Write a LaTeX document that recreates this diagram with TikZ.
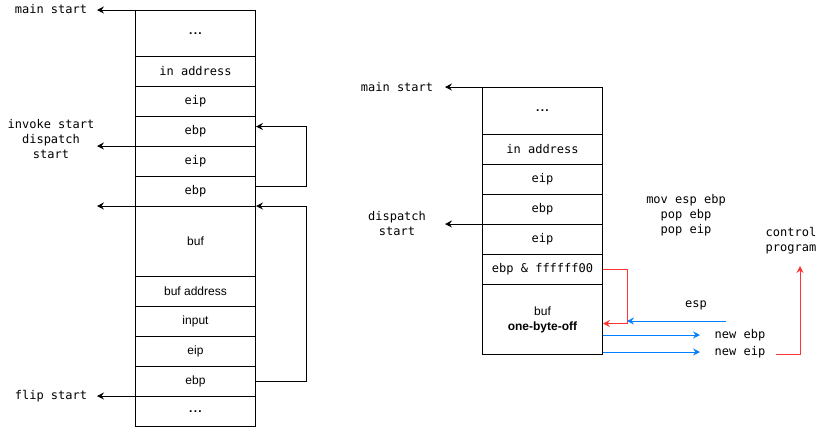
\documentclass[tikz,border=0pt]{standalone}
\usepackage{fontspec}
\newfontfamily\monof{DejaVu Sans Mono}
\newfontfamily\sansf{Liberation Sans}
\usetikzlibrary{arrows.meta}
\definecolor{myred}{RGB}{255,51,51}
\definecolor{myblue}{RGB}{0,127,255}
\newcommand{\mydots}{\textbf{.\kern1.3bp.\kern1.3bp.}}
\tikzset{
  cell/.style={draw=black, line width=1bp, minimum width=120bp, inner sep=0pt, anchor=north west,
    font=\monof\fontsize{12bp}{15bp}\selectfont, align=center},
  scell/.style={cell, font=\sansf\fontsize{12bp}{15bp}\selectfont},
  lbl/.style={inner sep=0pt, font=\monof\fontsize{12bp}{15bp}\selectfont, align=center},
  arr/.style={line width=1bp, -{Stealth[length=7bp,width=7bp,inset=2.5bp]}},
  redarr/.style={arr, draw=myred},
  bluearr/.style={arr, draw=myblue},
}
\begin{document}
\begin{tikzpicture}[x=1bp,y=-1bp]
\useasboundingbox (0,0) rectangle (826,428);
% left stack
\node[scell, minimum height=46bp] (l0) at (135,10) {\mydots};
\node[cell, minimum height=30bp] (l1) at (135,56) {in address};
\node[cell, minimum height=30bp] (l2) at (135,86) {eip};
\node[cell, minimum height=30bp] (l3) at (135,116) {ebp};
\node[cell, minimum height=30bp] (l4) at (135,146) {eip};
\node[cell, minimum height=30bp] (l5) at (135,176) {ebp};
\node[scell, minimum height=70bp] (l6) at (135,206) {buf};
\node[scell, minimum height=30bp] (l7) at (135,276) {buf address};
\node[scell, minimum height=30bp] (l8) at (135,306) {input};
\node[scell, minimum height=30bp] (l9) at (135,336) {eip};
\node[scell, minimum height=30bp] (l10) at (135,366) {ebp};
\node[scell, minimum height=30bp] (l11) at (135,396) {\mydots};
% left labels
\node[lbl] (lmain) at (51,9) {main start};
\coordinate (tmain) at (97,10);
\node[lbl] (linvoke) at (51,139) {invoke start\\dispatch\\start};
\coordinate (tinvoke) at (97,146);
\coordinate (tbuf) at (97,206);
\node[lbl] (lflip) at (51,396) {flip start};
\coordinate (tflip) at (97,396);
\draw[arr] (l0.north west) -- (tmain);
\draw[arr] (l4.north west) -- (tinvoke);
\draw[arr] (l6.north west) -- (tbuf);
\draw[arr] (l11.north west) -- (tflip);
% left loops
\draw[arr] ([yshift=5bp]l5.east) -- ++(50,0) |- ([yshift=5bp]l3.east);
\draw[arr] (l10.east) -- ++(50,0) |- (l6.north east);
% right stack
\node[scell, minimum height=47bp] (r0) at (482,87) {\mydots};
\node[cell, minimum height=30bp] (r1) at (482,134) {in address};
\node[cell, minimum height=30bp] (r2) at (482,164) {eip};
\node[cell, minimum height=30bp] (r3) at (482,194) {ebp};
\node[cell, minimum height=30bp] (r4) at (482,224) {eip};
\node[cell, minimum height=30bp] (r5) at (482,254) {ebp \& ffffff00};
\node[scell, minimum height=70bp] (r6) at (482,284) {buf\\\textbf{one-byte-off}};
% right labels
\node[lbl] (rmain) at (397,87) {main start};
\coordinate (trmain) at (445,87);
\node[lbl] (rdisp) at (397,224) {dispatch\\start};
\coordinate (trdisp) at (445,224);
\draw[arr] (r0.north west) -- (trmain);
\draw[arr] (r4.north west) -- (trdisp);
\node[lbl] (mov) at (686,215) {mov esp ebp\\pop ebp\\pop eip};
\node[lbl] (ctrl) at (791,241) {control\\program};
\node[lbl] (esp) at (696,305) {esp};
\node[lbl] (nebp) at (740,335) {new ebp};
\node[lbl] (neip) at (740,352) {new eip};
% red
\draw[redarr] (r5.east) -- ++(24,0) |- ([yshift=-4bp]r6.east);
\coordinate (ctrlstart) at (776,354);
\coordinate (ctrltip) at (800,266);
\draw[redarr] (ctrlstart) -| (ctrltip);
% blue
\coordinate (espstart) at (726,321);
\coordinate (esptip) at (627,321);
\draw[bluearr] (espstart) -- (esptip);
\coordinate (nebptip) at (700,335);
\coordinate (neiptip) at (700,352);
\draw[bluearr] (r6.east |- nebptip) -- (nebptip);
\draw[bluearr] (r6.east |- neiptip) -- (neiptip);
\end{tikzpicture}
\end{document}
